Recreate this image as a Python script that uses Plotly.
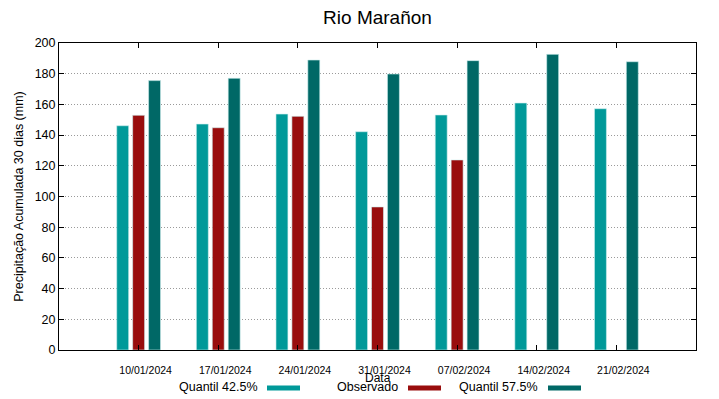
import plotly.graph_objects as go

dates = ["10/01/2024", "17/01/2024", "24/01/2024", "31/01/2024", "07/02/2024", "14/02/2024", "21/02/2024"]
q425 = [146.1, 147.2, 153.7, 142.2, 153.1, 160.9, 157.2]
observado = [152.9, 144.8, 152.2, 93.2, 123.8, None, None]
q575 = [175.5, 177.0, 188.9, 179.8, 188.5, 192.6, 187.8]

names = ["Quantil 42.5%", "Observado", "Quantil 57.5%"]
colors = ["#009999", "#990d0d", "#006866"]
series = [q425, observado, q575]

FONT = "Liberation Sans"

# page body has an 8px margin: work in page pixels and shift
OFF = 8
FW, FH = 719 - OFF, 399 - OFF

fig = go.Figure()
for name, vals, col in zip(names, series, colors):
    fig.add_trace(go.Bar(
        x=dates, y=vals, name=name,
        marker=dict(color=col, line=dict(color="#cfeeee", width=0.6)),
        showlegend=False,
    ))

leg_text_right = [259.5, 399.5, 540]
leg_sample = [(267, 300), (408, 441), (548, 581)]
L, R, T, B = 59, 696, 43, 350
W, H = R - L, B - T
def px(x):
    return (x - L) / W
def py(y):
    return (B - y) / H

shapes = []
annotations = []
for name, col, tr, (s0, s1) in zip(names, colors, leg_text_right, leg_sample):
    annotations.append(dict(
        text=name, x=px(tr), y=py(387), xref="paper", yref="paper",
        xanchor="right", yanchor="middle", showarrow=False,
        font=dict(family=FONT, size=12.5, color="#000000"),
    ))
    shapes.append(dict(
        type="line", xref="paper", yref="paper",
        x0=px(s0), x1=px(s1), y0=py(388), y1=py(388),
        line=dict(color=col, width=5),
    ))

annotations.append(dict(
    text="Data", x=px(377.5), y=py(378), xref="paper", yref="paper",
    xanchor="center", yanchor="middle", showarrow=False,
    font=dict(family=FONT, size=12, color="#000000"),
))

fig.update_layout(
    width=FW, height=FH,
    margin=dict(l=L - OFF, r=719 - R, t=T - OFF, b=399 - B, autoexpand=False),
    paper_bgcolor="white", plot_bgcolor="white",
    barmode="group", bargap=0.4, bargroupgap=0.25,
    title=dict(text="Rio Marañon", x=0.5, xref="paper", y=1 - (17 - OFF) / FH,
               yanchor="middle", font=dict(family=FONT, size=19, color="#000000")),
    font=dict(family=FONT, color="#000000"),
    shapes=shapes, annotations=annotations,
    showlegend=False,
)
fig.update_xaxes(
    type="category", range=[-1, 7],
    showline=True, linecolor="#000000", linewidth=1, mirror="ticks",
    ticks="inside", ticklen=5, tickcolor="#000000",
    tickfont=dict(family=FONT, size=10.5, color="#000000"),
    ticklabelshift=7, ticklabelstandoff=10,
    showgrid=False,
)
fig.update_yaxes(
    range=[0, 200], dtick=20,
    showline=True, linecolor="#000000", linewidth=1, mirror="ticks",
    ticks="inside", ticklen=5, tickcolor="#000000",
    tickfont=dict(family=FONT, size=12.5, color="#000000"),
    showgrid=True, gridcolor="#9a9a9a", griddash="1px,2px", gridwidth=1,
    zeroline=False,
    title=dict(text="Precipitação Acumulada 30 dias (mm)", standoff=8,
               font=dict(family=FONT, size=12.5, color="#000000")),
)

fig.write_html("out.html")
